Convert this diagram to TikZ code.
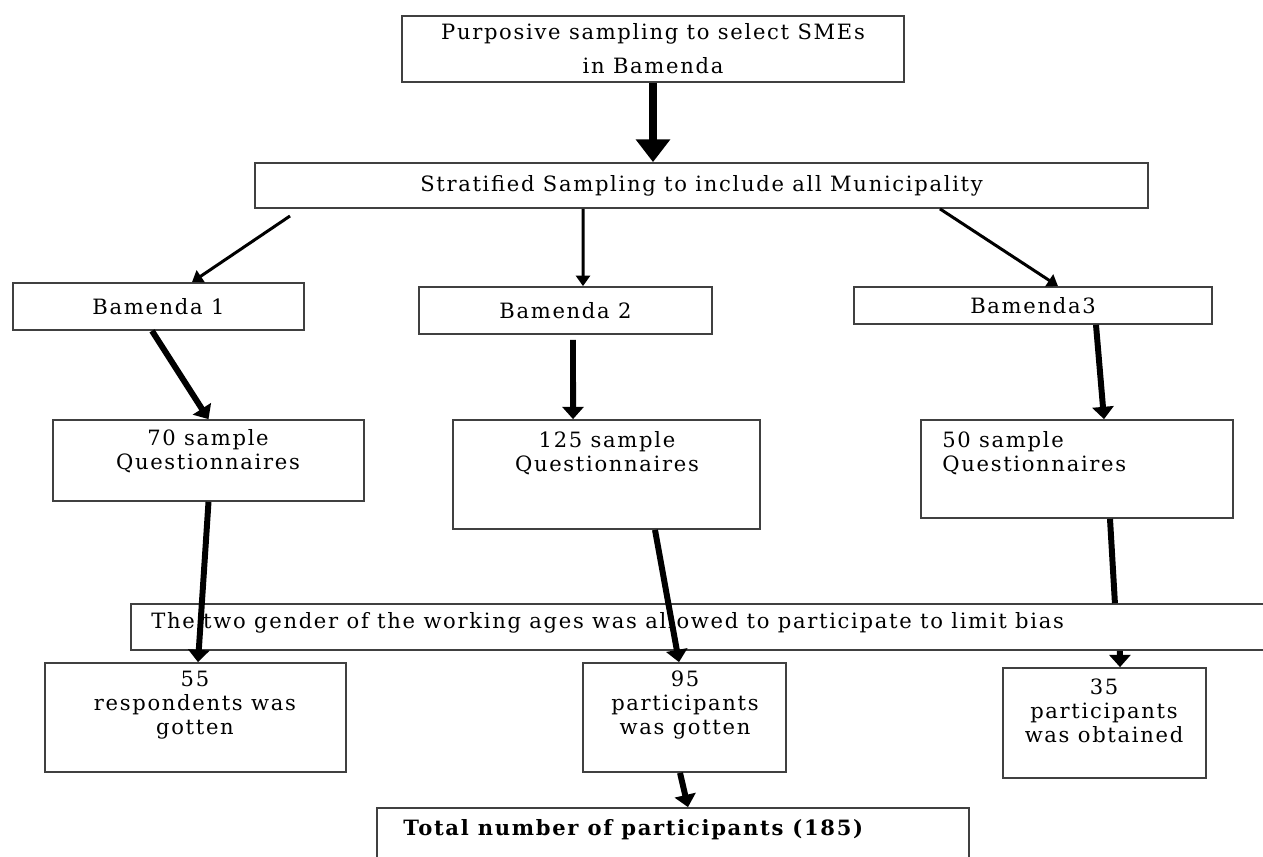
\documentclass[tikz,border=0pt]{standalone}
\usepackage{fontspec}
\setmainfont{DejaVu Serif}[LetterSpace=8]
\usetikzlibrary{arrows.meta}
\begin{document}
\begin{tikzpicture}[x=0.02cm,y=-0.02cm,
    box/.style={draw=black!75,line width=1pt,inner sep=0pt,
      font=\fontsize{12}{13.5}\selectfont},
    txt/.style={inner sep=0pt,align=center,font=\fontsize{12}{13.5}\selectfont},
    bigarr/.style={line width=4.5pt,-{Triangle[width=19pt,length=13pt]}},
    thinarr/.style={line width=1.7pt,-{Triangle[width=8pt,length=6pt]}},
    arr/.style={line width=3.4pt,-{Triangle[width=12pt,length=7pt]}}]
  \useasboundingbox (0,0) rectangle (1263,857);
  % echantillonnage
  \node[box,minimum width=10.04cm,minimum height=1.32cm,align=center] (purp) at (653,49)
    {Purposive sampling to select SMEs\\[6pt]in Bamenda};
  \node[box,minimum width=17.86cm,minimum height=0.9cm] (strat) at (701.5,185.5)
    {Stratified Sampling to include all Municipality};
  \draw[bigarr] (purp.south) -- (purp.south |- strat.north);
  % communes
  \node[box,minimum width=5.82cm,minimum height=0.94cm] (b1) at (158.5,306.5) {Bamenda 1};
  \node[box,minimum width=5.86cm,minimum height=0.94cm] (b2) at (565.5,310.5) {Bamenda 2};
  \node[box,minimum width=7.16cm,minimum height=0.74cm] (b3) at (1033,305.5) {Bamenda3};
  \coordinate (s1) at (290,216);
  \draw[thinarr] (s1) -- ([xshift=0.67cm]b1.north);
  \draw[thinarr] ([xshift=-2.37cm]strat.south) -- ([xshift=0.35cm]b2.north);
  \draw[thinarr] ([xshift=4.77cm]strat.south) -- ([xshift=0.5cm]b3.north);
  % questionnaires
  \node[box,minimum width=6.22cm,minimum height=1.62cm] (q70) at (208.5,460.5) {};
  \node[box,minimum width=6.14cm,minimum height=2.18cm] (q125) at (606.5,474.5) {};
  \node[box,minimum width=6.24cm,minimum height=1.96cm] (q50) at (1077,469) {};
  \node[txt] (t70) at (208,451) {70 sample\\Questionnaires};
  \node[txt] (t125) at (607,453) {125 sample\\Questionnaires};
  \node[txt,align=left,anchor=west] (t50) at (942,453) {50 sample\\Questionnaires};
  \draw[arr] ([xshift=-0.13cm]b1.south) -- (q70.north);
  \draw[arr] ([xshift=0.15cm,yshift=-0.1cm]b2.south) -- ([xshift=-0.67cm]q125.north);
  \draw[arr] ([xshift=1.26cm]b3.south) -- ([xshift=0.54cm]q50.north);
  % genre
  \node[box,minimum width=22.88cm,minimum height=0.92cm] (gender) at (703,627) {};
  \node[txt,anchor=west] (tg) at (151,623)
    {The two gender of the working ages was allowed to participate to limit bias};
  % resultats
  \node[box,minimum width=6.02cm,minimum height=2.18cm] (r55) at (195.5,717.5) {};
  \node[box,minimum width=4.06cm,minimum height=2.18cm] (p95) at (684.5,717.5) {};
  \node[box,minimum width=4.06cm,minimum height=2.2cm] (p35) at (1104.5,723) {};
  \node[txt] (t55) at (195,705) {55\\respondents was\\gotten};
  \node[txt] (t95) at (685,705) {95\\participants\\was gotten};
  \node[txt] (t35) at (1104,711) {35\\participants\\was obtained};
  \draw[arr] (q70.south) -- ([xshift=0.05cm]r55.north);
  \draw[arr] ([xshift=0.97cm]q125.south) -- ([xshift=-0.11cm]p95.north);
  \draw[line width=3.4pt] ([xshift=0.66cm]q50.south) -- ([xshift=8.24cm]gender.north);
  \draw[arr] ([xshift=8.34cm]gender.south) -- ([xshift=0.31cm]p35.north);
  % total
  \node[box,minimum width=11.84cm,minimum height=1.24cm] (total) at (673,839) {};
  \node[txt,anchor=west,font=\fontsize{12}{13.5}\selectfont\bfseries] (tt) at (403,830)
    {Total number of participants (185)};
  \draw[arr] ([xshift=-0.09cm]p95.south) -- ([xshift=0.3cm]total.north);
\end{tikzpicture}
\end{document}
